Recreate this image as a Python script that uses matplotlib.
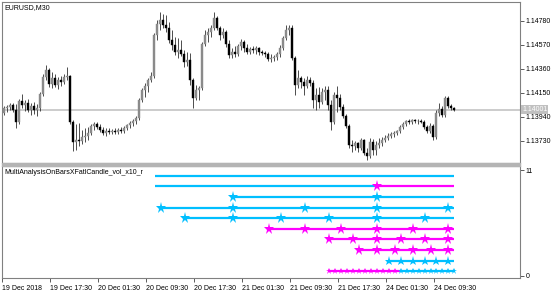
import matplotlib.pyplot as plt
from matplotlib.patches import Rectangle

plt.rcParams['font.family'] = ['Liberation Sans', 'DejaVu Sans']

symbol = "EURUSD,M30"
indicator_name = "MultiAnalysisOnBarsXFatlCandle_vol_x10_r"
last_price = 1.14001

# EURUSD M30 candles, bar 0 = 19 Dec 09:30
opens = [1.13937, 1.13972, 1.14016, 1.14025, 1.14042, 1.13999, 1.13894, 1.14077, 1.14042, 1.14060,
         1.13999, 1.14034, 1.13999, 1.14016, 1.14139, 1.14287, 1.14349, 1.14226, 1.14279, 1.14217,
         1.14261, 1.14244, 1.14287, 1.14296, 1.13894, 1.13719, 1.13736, 1.13727, 1.13762, 1.13771,
         1.13797, 1.13859, 1.13876, 1.13850, 1.13824, 1.13797, 1.13815, 1.13806, 1.13815, 1.13806,
         1.13824, 1.13815, 1.13841, 1.13867, 1.13885, 1.13902, 1.13929, 1.14086, 1.14174, 1.14209,
         1.14261, 1.14296, 1.14655, 1.14751, 1.14786, 1.14742, 1.14716, 1.14611, 1.14567, 1.14506,
         1.14524, 1.14489, 1.14419, 1.14436, 1.14261, 1.14104, 1.14174, 1.14191, 1.14576, 1.14655,
         1.14681, 1.14716, 1.14804, 1.14716, 1.14655, 1.14681, 1.14576, 1.14480, 1.14506, 1.14489,
         1.14559, 1.14594, 1.14541, 1.14506, 1.14532, 1.14524, 1.14541, 1.14506, 1.14497, 1.14489,
         1.14445, 1.14454, 1.14462, 1.14489, 1.14541, 1.14629, 1.14699, 1.14716, 1.14454, 1.14217,
         1.14279, 1.14244, 1.14209, 1.14261, 1.14235, 1.14086, 1.14130, 1.14069, 1.14156, 1.14174,
         1.14042, 1.13894, 1.14130, 1.14104, 1.14025, 1.13946, 1.13859, 1.13692, 1.13684, 1.13710,
         1.13666, 1.13736, 1.13622, 1.13596, 1.13719, 1.13649, 1.13692, 1.13710, 1.13736, 1.13754,
         1.13771, 1.13789, 1.13797, 1.13815, 1.13850, 1.13876, 1.13902, 1.13894, 1.13911, 1.13902,
         1.13902, 1.13894, 1.13850, 1.13815, 1.13859, 1.13762, 1.13972, 1.14007, 1.13955, 1.14104,
         1.14034, 1.14016]
highs = [1.13990, 1.14034, 1.14042, 1.14060, 1.14060, 1.14051, 1.14095, 1.14139, 1.14086, 1.14095,
         1.14060, 1.14069, 1.14051, 1.14156, 1.14314, 1.14392, 1.14366, 1.14331, 1.14314, 1.14287,
         1.14296, 1.14314, 1.14375, 1.14305, 1.13911, 1.13876, 1.13885, 1.13824, 1.13841, 1.13850,
         1.13876, 1.13894, 1.13894, 1.13876, 1.13850, 1.13841, 1.13841, 1.13832, 1.13841, 1.13841,
         1.13850, 1.13859, 1.13876, 1.13902, 1.13920, 1.13946, 1.14104, 1.14191, 1.14235, 1.14279,
         1.14331, 1.14672, 1.14786, 1.14856, 1.14839, 1.14830, 1.14769, 1.14699, 1.14637, 1.14629,
         1.14611, 1.14524, 1.14506, 1.14497, 1.14279, 1.14217, 1.14209, 1.14594, 1.14699, 1.14716,
         1.14742, 1.14856, 1.14821, 1.14734, 1.14716, 1.14699, 1.14611, 1.14541, 1.14559, 1.14576,
         1.14620, 1.14611, 1.14576, 1.14550, 1.14559, 1.14559, 1.14550, 1.14524, 1.14515, 1.14506,
         1.14489, 1.14480, 1.14506, 1.14567, 1.14646, 1.14742, 1.14742, 1.14742, 1.14471, 1.14349,
         1.14296, 1.14279, 1.14296, 1.14287, 1.14261, 1.14191, 1.14200, 1.14191, 1.14209, 1.14209,
         1.14086, 1.14156, 1.14209, 1.14139, 1.14051, 1.13964, 1.13876, 1.13736, 1.13727, 1.13719,
         1.13754, 1.13745, 1.13666, 1.13754, 1.13745, 1.13727, 1.13754, 1.13762, 1.13780, 1.13797,
         1.13806, 1.13815, 1.13824, 1.13867, 1.13894, 1.13911, 1.13920, 1.13920, 1.13920, 1.13920,
         1.13920, 1.13911, 1.13867, 1.13885, 1.13876, 1.13999, 1.14060, 1.14034, 1.14121, 1.14121,
         1.14051, 1.14025]
lows = [1.13920, 1.13955, 1.13981, 1.13999, 1.13981, 1.13841, 1.13876, 1.14016, 1.13990, 1.13981,
        1.13955, 1.13964, 1.13946, 1.13990, 1.14121, 1.14261, 1.14200, 1.14191, 1.14200, 1.14182,
        1.14209, 1.14226, 1.14261, 1.13876, 1.13640, 1.13649, 1.13684, 1.13701, 1.13719, 1.13736,
        1.13780, 1.13824, 1.13832, 1.13806, 1.13780, 1.13771, 1.13789, 1.13789, 1.13789, 1.13789,
        1.13797, 1.13797, 1.13824, 1.13841, 1.13859, 1.13876, 1.13911, 1.14069, 1.14112, 1.14156,
        1.14244, 1.14279, 1.14611, 1.14699, 1.14716, 1.14681, 1.14585, 1.14524, 1.14480, 1.14454,
        1.14471, 1.14375, 1.14384, 1.14217, 1.14016, 1.14086, 1.14086, 1.14174, 1.14559, 1.14594,
        1.14637, 1.14699, 1.14699, 1.14611, 1.14629, 1.14550, 1.14454, 1.14454, 1.14462, 1.14471,
        1.14524, 1.14506, 1.14489, 1.14489, 1.14497, 1.14489, 1.14480, 1.14480, 1.14462, 1.14427,
        1.14419, 1.14427, 1.14436, 1.14462, 1.14524, 1.14611, 1.14655, 1.14436, 1.14130, 1.14191,
        1.14191, 1.14130, 1.14191, 1.14209, 1.14016, 1.13999, 1.14016, 1.14051, 1.14086, 1.13999,
        1.13824, 1.13876, 1.13981, 1.13999, 1.13929, 1.13841, 1.13666, 1.13631, 1.13649, 1.13631,
        1.13649, 1.13605, 1.13561, 1.13579, 1.13605, 1.13605, 1.13666, 1.13684, 1.13719, 1.13736,
        1.13754, 1.13762, 1.13780, 1.13797, 1.13832, 1.13859, 1.13876, 1.13876, 1.13885, 1.13876,
        1.13885, 1.13832, 1.13797, 1.13797, 1.13736, 1.13745, 1.13946, 1.13937, 1.13937, 1.14016,
        1.13999, 1.13990]
closes = [1.13972, 1.14016, 1.14025, 1.14042, 1.13999, 1.13894, 1.14077, 1.14042, 1.14060, 1.13999,
          1.14034, 1.13999, 1.14016, 1.14139, 1.14287, 1.14349, 1.14226, 1.14279, 1.14217, 1.14261,
          1.14244, 1.14287, 1.14296, 1.13894, 1.13719, 1.13736, 1.13727, 1.13762, 1.13771, 1.13797,
          1.13859, 1.13876, 1.13850, 1.13824, 1.13797, 1.13815, 1.13806, 1.13815, 1.13806, 1.13824,
          1.13815, 1.13841, 1.13867, 1.13885, 1.13902, 1.13929, 1.14086, 1.14174, 1.14209, 1.14261,
          1.14296, 1.14655, 1.14751, 1.14786, 1.14742, 1.14716, 1.14611, 1.14567, 1.14506, 1.14524,
          1.14489, 1.14419, 1.14436, 1.14261, 1.14104, 1.14174, 1.14191, 1.14576, 1.14655, 1.14681,
          1.14716, 1.14804, 1.14716, 1.14655, 1.14681, 1.14576, 1.14480, 1.14506, 1.14489, 1.14559,
          1.14594, 1.14541, 1.14506, 1.14532, 1.14524, 1.14541, 1.14506, 1.14497, 1.14489, 1.14445,
          1.14454, 1.14462, 1.14489, 1.14541, 1.14629, 1.14699, 1.14716, 1.14454, 1.14217, 1.14279,
          1.14244, 1.14209, 1.14261, 1.14235, 1.14086, 1.14130, 1.14069, 1.14156, 1.14174, 1.14042,
          1.13894, 1.14130, 1.14104, 1.14025, 1.13946, 1.13859, 1.13692, 1.13684, 1.13710, 1.13666,
          1.13736, 1.13622, 1.13596, 1.13719, 1.13649, 1.13692, 1.13710, 1.13736, 1.13754, 1.13771,
          1.13789, 1.13797, 1.13815, 1.13850, 1.13876, 1.13902, 1.13894, 1.13911, 1.13902, 1.13902,
          1.13894, 1.13850, 1.13815, 1.13859, 1.13762, 1.13972, 1.14007, 1.13955, 1.14104, 1.14034,
          1.14016, 1.14001]

price_ticks = [1.14780, 1.14570, 1.14360, 1.14150, 1.13940, 1.13730]
time_tick_bars = [0, 16, 32, 48, 64, 80, 96, 112, 128, 144]
time_tick_labels = ["19 Dec 2018", "19 Dec 17:30", "20 Dec 01:30", "20 Dec 09:30", "20 Dec 17:30",
                    "21 Dec 01:30", "21 Dec 09:30", "21 Dec 17:30", "24 Dec 01:30", "24 Dec 09:30"]

# indicator rows (MN1 .. H1): level, first bar, colour before first signal, signal bars, signal directions
row_levels = [10, 9, 8, 7, 6, 5, 4, 3, 2, 1]
row_starts = [51, 51, 77, 53, 61, 89, 109, 119, 129, 109]
row_first = ['up', 'up', 'up', 'up', 'up', 'dn', 'dn', 'dn', 'up', 'dn']
row_signal_bars = [
    [],
    [125],
    [77, 125],
    [53, 77, 101, 125, 149],
    [61, 77, 93, 109, 125, 141],
    [89, 101, 113, 125, 137, 149],
    [109, 117, 125, 133, 141, 149],
    [119, 125, 131, 137, 143, 149],
    [129, 133, 137, 141, 145, 149],
    [109, 111, 113, 115, 117, 119, 121, 123, 125, 127, 129, 131,
     133, 135, 137, 139, 141, 143, 145, 147, 149, 151],
]
row_signal_dirs = [
    [],
    ['dn'],
    ['up', 'up'],
    ['up'] * 5,
    ['up'] * 6,
    ['dn'] * 6,
    ['dn'] * 6,
    ['dn'] * 6,
    ['up'] * 6,
    ['dn'] * 12 + ['up'] * 10,
]
last_bar = 151

colours = {'up': '#00BFFF', 'dn': '#FF00FF'}
star_sizes = [8.2, 8.2, 8.2, 8.2, 8.2, 8.2, 8.2, 8.2, 6.8, 4.5]
frame = '#808080'

W, H = 560, 294
fig = plt.figure(figsize=(W / 100, H / 100), dpi=100)
ax = fig.add_axes([2 / W, 1 - 163.3 / H, 518 / W, 161.3 / H])
ax2 = fig.add_axes([2 / W, 1 - 278.3 / H, 518 / W, 112.3 / H])
fig.patches.append(Rectangle((2 / W, 1 - 166 / H), 518 / W, 2.7 / H, transform=fig.transFigure,
                             color='#b4b4b4', zorder=0))

xs = list(range(len(closes)))
ax.axhline(last_price, color='#c8c8c8', lw=1.3, zorder=1)
ax.vlines(xs, lows, highs, color='#303030', lw=0.6, zorder=2)
body_col = ['#000000' if c < o else '#8a8a8a' for o, c in zip(opens, closes)]
ax.bar(xs, [c - o for o, c in zip(opens, closes)], bottom=opens, width=0.62,
       color=body_col, edgecolor=body_col, lw=0.3, zorder=3)

for lvl, start, first, sb, sd, ms in zip(row_levels, row_starts, row_first,
                                         row_signal_bars, row_signal_dirs, star_sizes):
    edges = sorted(set([start, last_bar] + sb))
    state = first
    for a, b in zip(edges[:-1], edges[1:]):
        if a in sb:
            state = sd[sb.index(a)]
        ax2.plot([a, b], [lvl, lvl], color=colours[state], lw=1.6, solid_capstyle='butt', zorder=2)
    for b, d in zip(sb, sd):
        ax2.plot(b, lvl, marker='*', ms=ms, color=colours[d], mew=0, zorder=3)

for a in (ax, ax2):
    a.set_xlim(0.2, 0.2 + 518 / 3)
    for s in a.spines.values():
        s.set_color(frame)
        s.set_linewidth(0.8)
    a.yaxis.tick_right()
    a.tick_params(axis='y', length=3, width=0.6, color='#404040', pad=0.8, labelsize=5)

ax.set_ylim(1.13532, 1.14943)
ax.set_yticks(price_ticks)
ax.set_yticklabels([f"{p:.5f}" for p in price_ticks])
ax.set_xticks([])
ax.text(1.004, last_price, f"{last_price:.5f}", transform=ax.get_yaxis_transform(), fontsize=5,
        color='white', va='center', ha='left',
        bbox=dict(boxstyle='square,pad=0.15', fc='#c0c0c0', ec='none'), zorder=5, clip_on=False)
ax.text(0.005, 0.985, symbol, transform=ax.transAxes, fontsize=5, va='top', ha='left')

ax2.set_ylim(0.34, 10.92)
ax2.set_yticks([10.5, 0.6])
ax2.set_yticklabels(['11', '0'])
ax2.set_xticks(time_tick_bars)
ax2.set_xticklabels(time_tick_labels)
ax2.tick_params(axis='x', length=3, width=0.6, color='#404040', pad=1.5, labelsize=5)
plt.setp(ax2.get_xticklabels(), ha='left')
ax2.text(0.005, 0.975, indicator_name, transform=ax2.transAxes, fontsize=5, va='top', ha='left')

fig.savefig('out.png', dpi=100, facecolor='white')
